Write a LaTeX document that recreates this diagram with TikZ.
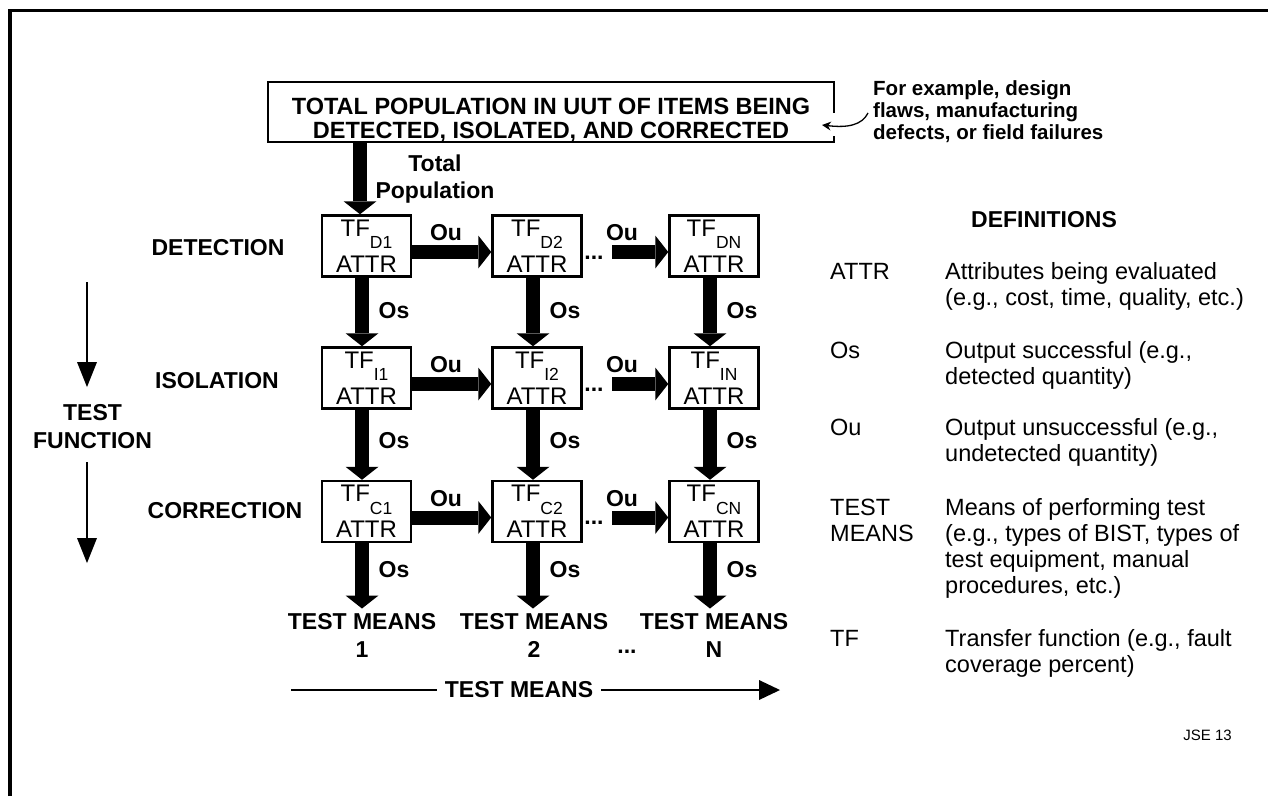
\documentclass[tikz,border=0pt]{standalone}
\usepackage{fontspec}
\setmainfont{Liberation Sans}
\usetikzlibrary{arrows.meta}
\newcommand\tfcell[4]{%
  \node[tfbox] (#1) at (#2,#3) {};
  \node[tftxt, anchor=base] (#1t) at (#2,#3-10) {TF\raisebox{-12.5pt}{\fontsize{17.5}{17.5}\selectfont #4}};
  \node[tftxt, anchor=base] (#1a) at (#2,#3+26) {ATTR};
}
\begin{document}
\begin{tikzpicture}[x=1pt,y=-1pt,
  bold/.style={font=\fontsize{23}{28}\selectfont\bfseries, inner sep=0pt},
  toptxt/.style={font=\fontsize{23.5}{24}\selectfont\bfseries, inner sep=0pt, anchor=base},
  tftxt/.style={font=\fontsize{24}{28}\selectfont, inner sep=0pt},
  deftxt/.style={font=\fontsize{23.5}{26}\selectfont, inner sep=0pt, anchor=base west},
  anntxt/.style={font=\fontsize{20.5}{22}\selectfont\bfseries, inner sep=0pt, anchor=base west},
  tfbox/.style={draw, line width=2.5pt, minimum width=89pt, minimum height=61pt, inner sep=0pt},
  bigarrow/.style={line width=14pt, -{Triangle[width=33pt,length=13pt,line width=0pt]}},
  thinarrow/.style={line width=2pt, -{Triangle[width=20pt,length=25pt,line width=0pt]}},
  axisarrow/.style={line width=2pt, -{Triangle[width=20pt,length=21pt,line width=0pt]}},
  annarrow/.style={line width=1.3pt, -{Stealth[width=9pt,length=9pt,line width=0pt]}},
]
\useasboundingbox (0,0) rectangle (1268,796);
% frame
\draw[line width=3.5pt] (10,796) -- (10,10.5) -- (1268,10.5);

% top box
\node[minimum width=566pt, minimum height=60pt, inner sep=0pt] (tb) at (551,112) {};
\coordinate (g1) at (834,113);
\coordinate (g2) at (834,136);
\draw[line width=2.5pt] (tb.east |- g2) -- (tb.south east) -- (tb.south west) -- (tb.north west) -- (tb.north east) -- (tb.east |- g1);
\node[toptxt] (tb1) at (551,114) {TOTAL POPULATION IN UUT OF ITEMS BEING};
\node[toptxt] (tb2) at (551,138) {DETECTED, ISOLATED, AND CORRECTED};

% annotation
\node[anntxt] (an1) at (873,95) {For example, design};
\node[anntxt] (an2) at (873,117) {flaws, manufacturing};
\node[anntxt] (an3) at (873,139) {defects, or field failures};
\coordinate (ans) at (868,113);
\coordinate (ane) at (822,125);
\draw[annarrow] (ans) .. controls (862,125) and (848,128) .. (ane);

% Total population
\node[bold, anchor=base] (tp1) at (435,171) {Total};
\node[bold, anchor=base] (tp2) at (435,198) {Population};

% cells
\tfcell{d1}{366.5}{246}{D1}
\tfcell{d2}{537}{246}{D2}
\tfcell{d3}{714}{246}{DN}
\tfcell{i1}{366.5}{378}{I1}
\tfcell{i2}{537}{378}{I2}
\tfcell{i3}{714}{378}{IN}
\tfcell{c1}{366.5}{511.5}{C1}
\tfcell{c2}{537}{511.5}{C2}
\tfcell{c3}{714}{511.5}{CN}

% arrow columns
\coordinate (ax0) at (360,0);
\coordinate (ax1) at (362,0);
\coordinate (ax2) at (533,0);
\coordinate (ax3) at (710,0);

% row labels
\node[bold, anchor=base] (ldet) at (218,255.5) {DETECTION};
\node[bold, anchor=base] (liso) at (217,388.5) {ISOLATION};
\node[bold, anchor=base] (lcor) at (225,518.5) {CORRECTION};

% bottom labels
\node[bold, align=center, anchor=north] (tm1) at (362,613.5) {TEST MEANS\\1};
\node[bold, align=center, anchor=north] (tm2) at (534,613.5) {TEST MEANS\\2};
\node[bold, align=center, anchor=north] (tm3) at (714,613.5) {TEST MEANS\\N};
\node[bold, anchor=base] (tmd) at (627,653) {...};

% top arrow
\draw[bigarrow] (tb.south -| ax0) -- (d1.north -| ax0);

% vertical Os arrows
\draw[bigarrow] (d1.south -| ax1) -- (i1.north -| ax1);
\draw[bigarrow] (d2.south -| ax2) -- (i2.north -| ax2);
\draw[bigarrow] (d3.south -| ax3) -- (i3.north -| ax3);
\draw[bigarrow] (i1.south -| ax1) -- (c1.north -| ax1);
\draw[bigarrow] (i2.south -| ax2) -- (c2.north -| ax2);
\draw[bigarrow] (i3.south -| ax3) -- (c3.north -| ax3);
\draw[bigarrow, shorten >=5pt] (c1.south -| ax1) -- (tm1.north -| ax1);
\draw[bigarrow, shorten >=5pt] (c2.south -| ax2) -- (tm2.north -| ax2);
\draw[bigarrow, shorten >=5pt] (c3.south -| ax3) -- (tm3.north -| ax3);

% Os labels
\foreach \r/\y in {1/311,2/441,3/570}{
  \node[bold] (os1\r) at (394,\y) {Os};
  \node[bold] (os2\r) at (565,\y) {Os};
  \node[bold] (os3\r) at (742,\y) {Os};
}

% horizontal Ou arrows
\coordinate (hsD) at (612,252);
\coordinate (hsI) at (612,384);
\coordinate (hsC) at (612,517.5);
\draw[bigarrow] ([yshift=-6pt]d1.east) -- ([yshift=-6pt]d2.west);
\draw[bigarrow] ([yshift=-6pt]i1.east) -- ([yshift=-6pt]i2.west);
\draw[bigarrow] ([yshift=-6pt]c1.east) -- ([yshift=-6pt]c2.west);
\draw[bigarrow] (hsD) -- (d3.west |- hsD);
\draw[bigarrow] (hsI) -- (i3.west |- hsI);
\draw[bigarrow] (hsC) -- (c3.west |- hsC);

% Ou labels and dots
\foreach \n/\cy in {D/246,I/378,C/511.5}{
  \node[bold] (ou1\n) at (446,\cy-13) {Ou};
  \node[bold] (ou2\n) at (622,\cy-13) {Ou};
  \node[bold, anchor=base] (dots\n) at (594,\cy+13) {...};
}

% left test function arrows
\coordinate (la1) at (87,282);
\coordinate (la2) at (87,387);
\coordinate (la3) at (87,462);
\coordinate (la4) at (87,563);
\draw[thinarrow] (la1) -- (la2);
\draw[thinarrow] (la3) -- (la4);
\node[bold, anchor=base] (tf1) at (92.5,420) {TEST};
\node[bold, anchor=base] (tf2) at (92.5,448) {FUNCTION};

% bottom test means axis
\coordinate (ba1) at (291,690);
\coordinate (ba2) at (780,690);
\draw[axisarrow] (ba1) -- (ba2);
\node[bold, fill=white, inner xsep=8pt, inner ysep=2pt] (tmax) at (519,690) {TEST MEANS};

% definitions
\node[bold] (defh) at (1044,219.7) {DEFINITIONS};
\node[deftxt] (k1) at (830,279) {ATTR};
\node[deftxt] (v1a) at (945,279) {Attributes being evaluated};
\node[deftxt] (v1b) at (945,305) {(e.g., cost, time, quality, etc.)};
\node[deftxt] (k2) at (830,358) {Os};
\node[deftxt] (v2a) at (945,358) {Output successful (e.g.,};
\node[deftxt] (v2b) at (945,384) {detected quantity)};
\node[deftxt] (k3) at (830,435) {Ou};
\node[deftxt] (v3a) at (945,435) {Output unsuccessful (e.g.,};
\node[deftxt] (v3b) at (945,461) {undetected quantity)};
\node[deftxt] (k4a) at (830,515) {TEST};
\node[deftxt] (k4b) at (830,541) {MEANS};
\node[deftxt] (v4a) at (945,515) {Means of performing test};
\node[deftxt] (v4b) at (945,541) {(e.g., types of BIST, types of};
\node[deftxt] (v4c) at (945,567) {test equipment, manual};
\node[deftxt] (v4d) at (945,593) {procedures, etc.)};
\node[deftxt] (k5) at (830,646) {TF};
\node[deftxt] (v5a) at (945,646) {Transfer function (e.g., fault};
\node[deftxt] (v5b) at (945,672) {coverage percent)};
\node[font=\fontsize{15}{15}\selectfont, inner sep=0pt, anchor=base east] (jse) at (1232,740) {JSE 13};
\end{tikzpicture}
\end{document}
